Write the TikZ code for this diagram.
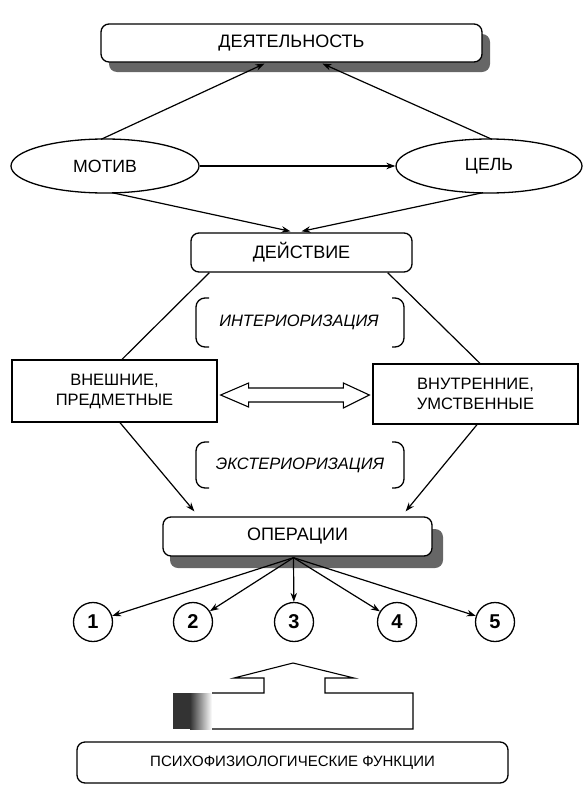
\documentclass[tikz,border=0pt]{standalone}
\usepackage{fontspec}
\setmainfont{Liberation Sans}
\usetikzlibrary{shapes.geometric,arrows.meta,calc}
\tikzset{
  rbox/.style={draw, line width=1.3pt, rounded corners=8pt, fill=white, inner sep=0pt, font=\fontsize{18}{21}\selectfont},
  sbox/.style={draw, line width=1.3pt, fill=white, inner sep=0pt, align=center, font=\fontsize{16.5}{20}\selectfont},
  ell/.style={draw, ellipse, line width=1.3pt, fill=white, inner sep=0pt, font=\fontsize{17.7}{20}\selectfont},
  num/.style={draw, circle, line width=1.3pt, minimum size=39pt, inner sep=0pt, font=\bfseries\fontsize{20}{22}\selectfont},
  lbl/.style={inner sep=0pt, font=\itshape\fontsize{16.5}{19}\selectfont},
  con/.style={line width=1.2pt},
  arr/.style={line width=1.2pt, -{Stealth[length=9pt,width=6.5pt]}},
  shd/.style={fill=black!60, rounded corners=8pt},
  brk/.style={line width=1.3pt, rounded corners=9pt}
}
\begin{document}
\begin{tikzpicture}[x=1pt,y=-1pt]
\useasboundingbox (0,0) rectangle (585,790);
% shadows
\fill[shd] (109,34) rectangle (490,72);
\fill[shd] (170,529) rectangle (443,568);
% nodes
\node[rbox, minimum width=381pt, minimum height=38pt] (dey) at (291.5,43) {ДЕЯТЕЛЬНОСТЬ};
\node[ell, minimum width=188pt, minimum height=54pt] (motiv) at (105,166) {МОТИВ};
\node[ell, minimum width=186pt, minimum height=54pt] (cel) at (489,166) {ЦЕЛЬ};
\node[rbox, minimum width=221pt, minimum height=39pt] (act) at (301.5,252.5) {ДЕЙСТВИЕ};
\node[sbox, minimum width=205pt, minimum height=62pt] (ext) at (114.5,391) {ВНЕШНИЕ,\\ПРЕДМЕТНЫЕ};
\node[sbox, minimum width=205pt, minimum height=60pt] (int) at (475.5,394) {ВНУТРЕННИЕ,\\УМСТВЕННЫЕ};
\node[lbl] (interior) at (299,322) {ИНТЕРИОРИЗАЦИЯ};
\node[lbl] (exterior) at (300,465) {ЭКСТЕРИОРИЗАЦИЯ};
\node[rbox, minimum width=269pt, minimum height=39pt] (oper) at (297.5,536.5) {ОПЕРАЦИИ};
\node[num] (n1) at (93,622) {1};
\node[num] (n2) at (193,622) {2};
\node[num] (n3) at (294,622) {3};
\node[num] (n4) at (397,622) {4};
\node[num] (n5) at (495,622) {5};
\node[rbox, minimum width=431pt, minimum height=41pt, font=\fontsize{15}{18}\selectfont] (psy) at (292.5,762.5) {ПСИХОФИЗИОЛОГИЧЕСКИЕ ФУНКЦИИ};
% brackets
\draw[brk] (209,298) -- (196,298) -- (196,347) -- (209,347);
\draw[brk] (392,298) -- (404,298) -- (404,347) -- (392,347);
\draw[brk] (209,442) -- (196,442) -- (196,488) -- (209,488);
\draw[brk] (392,442) -- (404,442) -- (404,488) -- (392,488);
% connectors top
\draw[arr] ($(motiv.north)+(-4,1)$) -- ($(dey.south)+(-27,1)$);
\draw[arr] ($(cel.north)+(3,1)$) -- ($(dey.south)+(31,1)$);
\draw[arr] (motiv.east) -- (cel.west);
\draw[arr] ($(motiv.south)+(7,-1)$) -- ($(act.north)+(-11,-1)$);
\draw[arr] ($(cel.south)+(-6,-1)$) -- ($(act.north)+(0,-1)$);
% middle
\draw[con] ($(act.south west)+(19,0)$) -- ($(ext.north)+(7.5,0)$);
\draw[con] ($(act.south east)+(-25,0)$) -- ($(int.north)+(4.5,0)$);
\draw[arr] ($(ext.south)+(5.5,0)$) -- ($(oper.north west)+(32,-5)$);
\draw[arr] ($(int.south)+(1.5,0)$) -- ($(oper.north east)+(-27,-5)$);
% double arrow
\coordinate (dl) at ($(ext.east)+(3,4)$);
\coordinate (dr) at ($(int.west)+(-3,1)$);
\draw[line width=1.1pt, fill=white, line join=miter]
  (dl) -- ++(28,-12) -- ++(0,5) -- ($(dr)+(-26,-7)$) -- ++(0,-5) -- (dr)
  -- ($(dr)+(-26,13)$) -- ++(0,-6) -- ($(dl)+(28,7)$) -- ++(0,5) -- cycle;
% operations to numbers
\coordinate (op) at ($(oper.south)+(-4,1)$);
\foreach \n in {n1,n2,n3,n4,n5}{\draw[arr] (op) -- (\n);}
% block arrow from functions
\coordinate (bt) at (293,663);
\fill[black!80] (173,693) rectangle (190,729);
\path[left color=black!80, right color=white] (190,693) rectangle (212,729);
\draw[line width=1.1pt]
  (212,693) -- (264,693) -- (264,678) -- (234,678) -- (bt) -- (354,678) -- (325,678) -- (325,693) -- (413,693) -- (413,729) -- (212,729);
\end{tikzpicture}
\end{document}
